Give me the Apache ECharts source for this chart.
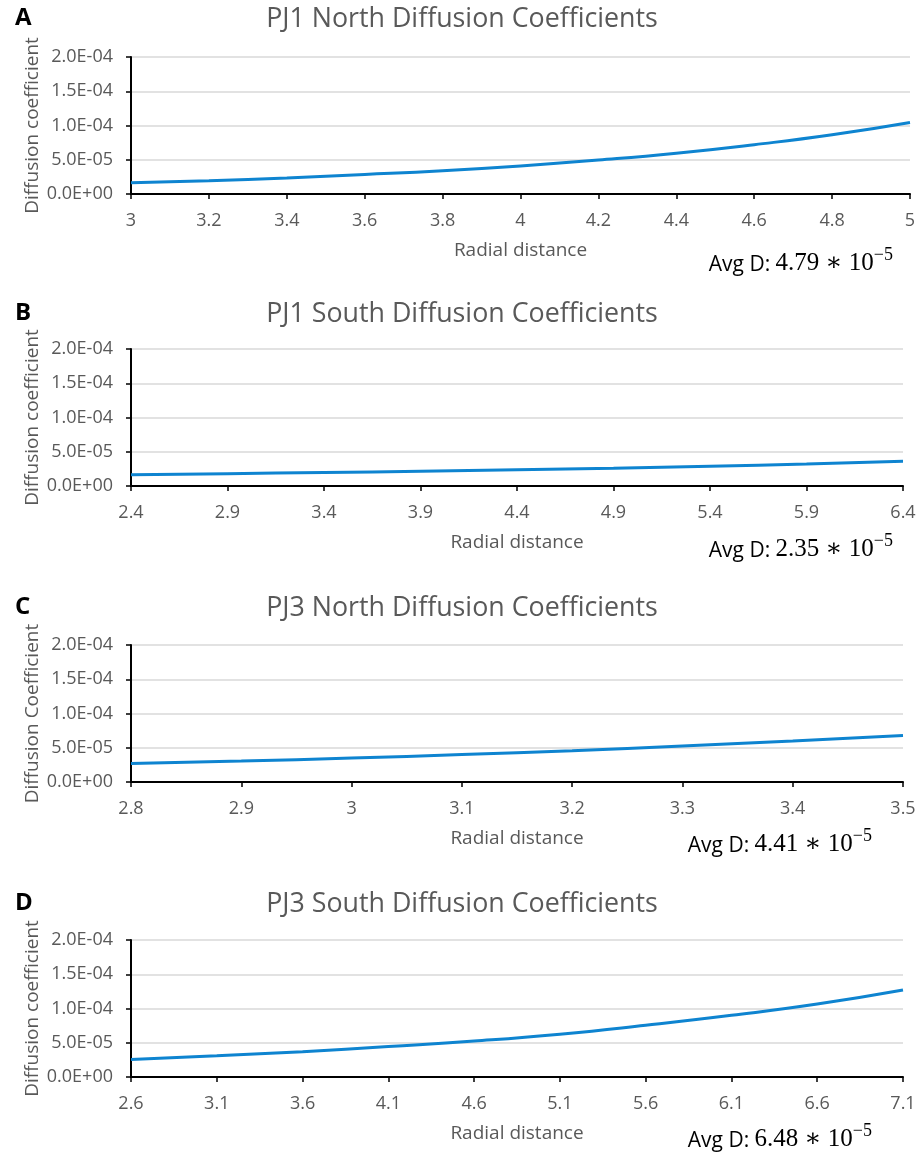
<!DOCTYPE html>
<html><head><meta charset="utf-8">
<script src="https://cdn.jsdelivr.net/npm/echarts@6/dist/echarts.min.js"></script>
<style>html,body{margin:0;padding:0;background:#fff}#c{width:924px;height:1153px}</style>
</head><body><div id="c"></div>
<script>
// Panel titles and labels
const panelLetters = ['A', 'B', 'C', 'D'];
const panelTitles = ['PJ1 North Diffusion Coefficients', 'PJ1 South Diffusion Coefficients', 'PJ3 North Diffusion Coefficients', 'PJ3 South Diffusion Coefficients'];
const yNames = ['Diffusion coefficient', 'Diffusion coefficient', 'Diffusion Coefficient', 'Diffusion coefficient'];
const avgD = ['4.79', '2.35', '4.41', '6.48'];

// Panel A: PJ1 North
const xA = [3.0, 3.2, 3.4, 3.6, 3.8, 4.0, 4.2, 4.4, 4.6, 4.8, 5.0];
const dA = [1.65e-5, 1.95e-5, 2.35e-5, 2.85e-5, 3.4e-5, 4.1e-5, 4.95e-5, 5.95e-5, 7.2e-5, 8.65e-5, 1.045e-4];
const ticksA = [3, 3.2, 3.4, 3.6, 3.8, 4, 4.2, 4.4, 4.6, 4.8, 5];

// Panel B: PJ1 South
const xB = [2.4, 2.9, 3.4, 3.9, 4.4, 4.9, 5.4, 5.9, 6.4];
const dB = [1.65e-5, 1.8e-5, 1.97e-5, 2.15e-5, 2.37e-5, 2.6e-5, 2.9e-5, 3.2e-5, 3.6e-5];
const ticksB = [2.4, 2.9, 3.4, 3.9, 4.4, 4.9, 5.4, 5.9, 6.4];

// Panel C: PJ3 North
const xC = [2.8, 2.9, 3.0, 3.1, 3.2, 3.3, 3.4, 3.5];
const dC = [2.7e-5, 3.05e-5, 3.5e-5, 4.0e-5, 4.55e-5, 5.25e-5, 6.0e-5, 6.8e-5];
const ticksC = [2.8, 2.9, 3, 3.1, 3.2, 3.3, 3.4, 3.5];

// Panel D: PJ3 South
const xD = [2.6, 3.1, 3.6, 4.1, 4.6, 5.1, 5.6, 6.1, 6.6, 7.1];
const dD = [2.55e-5, 3.1e-5, 3.7e-5, 4.45e-5, 5.25e-5, 6.25e-5, 7.55e-5, 9.0e-5, 1.065e-4, 1.27e-4];
const ticksD = [2.6, 3.1, 3.6, 4.1, 4.6, 5.1, 5.6, 6.1, 6.6, 7.1];

const xs = [xA, xB, xC, xD];
const ds = [dA, dB, dC, dD];
const ticks = [ticksA, ticksB, ticksC, ticksD];

// layout
const gridTops = [57, 349, 645, 940];
const gridH = 137;
const gridRights = [14, 21, 21, 21];
const titleY = [18, 313, 607, 903];
const avgPos = [[893, 261], [893, 547], [872, 842], [872, 1137]];

const gray = '#595959';
const FONT = 'Open Sans';
const SERIF = 'Liberation Serif, DejaVu Serif';
const lineColor = '#0E84D0';

function fmtE(v) {
  if (v === 0) return '0.0E+00';
  const s = v.toExponential(1).split('e');
  const e = parseInt(s[1], 10);
  return s[0] + 'E' + (e < 0 ? '-' : '+') + String(Math.abs(e)).padStart(2, '0');
}

const grid = [], xAxis = [], yAxis = [], series = [], title = [], graphic = [];
for (let i = 0; i < 4; i++) {
  grid.push({ left: 131, right: gridRights[i], top: gridTops[i], height: gridH });
  const tk = ticks[i];
  xAxis.push({
    type: 'value', gridIndex: i, min: tk[0], max: tk[tk.length - 1],
    name: 'Radial distance', nameLocation: 'middle', nameGap: 47,
    nameTextStyle: { color: gray, fontFamily: FONT, fontSize: 19 },
    axisLine: { show: true, onZero: false, lineStyle: { color: '#000', width: 2 } },
    axisTick: { show: true, customValues: tk, length: 5, lineStyle: { color: '#000', width: 1.5 } },
    axisLabel: { customValues: tk, margin: 18, color: gray, fontFamily: FONT, fontSize: 18, formatter: v => String(+v.toFixed(2)) },
    splitLine: { show: false }
  });
  yAxis.push({
    type: 'value', gridIndex: i, min: 0, max: 2e-4, interval: 5e-5,
    name: yNames[i], nameLocation: 'middle', nameGap: 89, nameRotate: 90, nameMoveOverlap: false,
    nameTextStyle: { color: gray, fontFamily: FONT, fontSize: 19 },
    axisLine: { show: true, lineStyle: { color: '#000', width: 2 } },
    axisTick: { show: true, length: 5, lineStyle: { color: '#000', width: 1.5 } },
    axisLabel: { margin: 18, color: gray, fontFamily: FONT, fontSize: 18, formatter: fmtE },
    splitLine: { show: true, lineStyle: { color: '#d9d9d9', width: 1.5 } }
  });
  series.push({
    type: 'line', xAxisIndex: i, yAxisIndex: i, smooth: true, showSymbol: false,
    lineStyle: { color: lineColor, width: 3 }, itemStyle: { color: lineColor },
    data: xs[i].map((x, j) => [x, ds[i][j]])
  });
  title.push({
    text: panelTitles[i], left: 'center', top: titleY[i] - 17,
    textStyle: { color: gray, fontFamily: FONT, fontSize: 26.8, fontWeight: 'normal' }
  });
  title.push({
    text: panelLetters[i], left: 10, top: titleY[i] - 17,
    textStyle: { color: '#000', fontFamily: FONT, fontSize: 24, fontWeight: 'bold' }
  });
  graphic.push({
    type: 'text', x: avgPos[i][0], y: avgPos[i][1],
    style: {
      text: '{a|Avg D: }{m|' + avgD[i] + ' \u2217 10}{s|\u22125}',
      align: 'right', verticalAlign: 'middle',
      rich: {
        a: { fontFamily: FONT, fontSize: 21, color: '#000', lineHeight: 29, verticalAlign: 'bottom' },
        m: { fontFamily: SERIF, fontSize: 25, color: '#000', lineHeight: 29, verticalAlign: 'bottom' },
        s: { fontFamily: SERIF, fontSize: 18, color: '#000', lineHeight: 17, verticalAlign: 'top' }
      }
    }
  });
}

const chart = echarts.init(document.getElementById('c'), null, { renderer: 'canvas' });
chart.setOption({ animation: false, backgroundColor: '#fff', grid, xAxis, yAxis, series, title, graphic });
</script></body></html>
